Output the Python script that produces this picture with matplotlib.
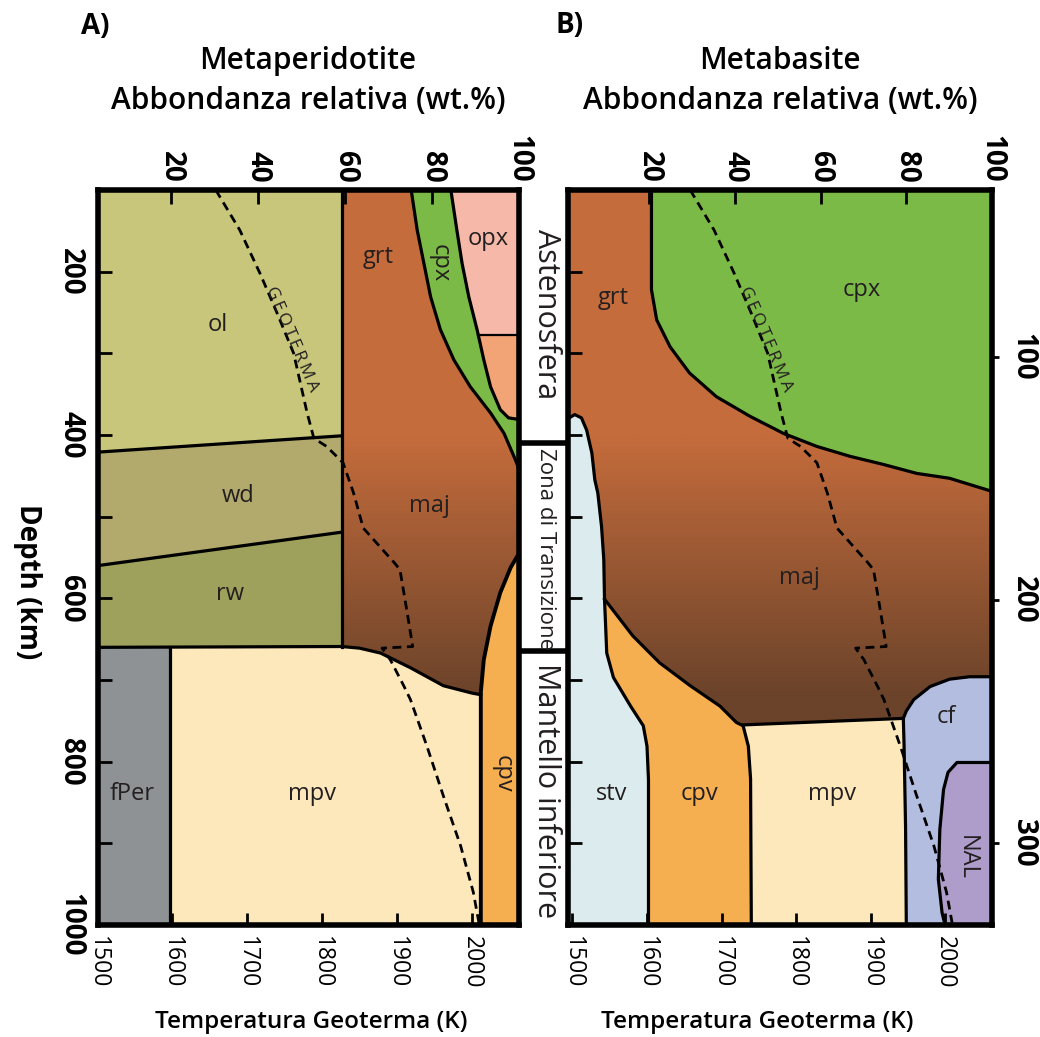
"""
    mineral phase abundance along the geotherm: metaperidotite (A) and metabasite (B)
"""
import numpy as np
import matplotlib
matplotlib.use("Agg")
import matplotlib.pyplot as plt
from matplotlib.colors import to_rgb

plt.rcParams['font.family'] = ['Open Sans', 'DejaVu Sans']

# axis ranges: temperature (K) on x, depth (km) on y
t_min_a, t_max_a = 1500, 2063
t_min_b, t_max_b = 1494, 2063
d_top, d_bot = 100, 1000
temp_ticks = [1500, 1600, 1700, 1800, 1900, 2000]
depth_labels = [200, 400, 600, 800, 1000]
depth_minor = [300, 500, 700, 900]
abund_ticks = [20, 40, 60, 80, 100]
abund_lim_a = (3, 100)
abund_lim_b = (1, 100)
right_ticks_b = [100, 200, 300]
right_lim_b = (333.7, 31.3)

# ---- panel A: metaperidotite, phase boundaries (T, depth) ----
a_ol_grt_T = 1826
a_fper_T = 1597
a_ol_wd_T = [1500, 1826]
a_ol_wd_d = [421, 401]
a_wd_rw_T = [1500, 1826]
a_wd_rw_d = [560, 519]
a_mpv_top_T = [1500, 1826, 1850, 1878, 1918, 1962, 2000, 2012]
a_mpv_top_d = [660, 659, 661, 667, 685, 707, 716, 718]
a_cpv_T = [2063, 2052, 2038, 2025, 2016, 2012, 2012]
a_cpv_d = [545, 562, 593, 634, 675, 715, 1000]
a_cpx_left_T = [1919, 1927, 1936, 1945, 1958, 1976, 1998, 2025, 2043, 2058, 2063]
a_cpx_left_d = [100, 149, 190, 231, 271, 308, 341, 373, 398, 430, 442]
a_cpx_right_T = [1972, 1980, 1987, 1996, 2007, 2016, 2025, 2038, 2049, 2063]
a_cpx_right_d = [100, 149, 190, 231, 271, 308, 341, 369, 379, 381]
a_opx_split_d = 277

# ---- panel B: metabasite ----
b_cpx_T = [1606, 1606, 1613, 1631, 1657, 1693, 1738, 1783, 1828, 1872, 1917, 1962, 2006, 2063]
b_cpx_d = [100, 222, 259, 292, 324, 353, 377, 398, 414, 426, 436, 447, 453, 469]
b_stv_T = [1494, 1503, 1512, 1519, 1526, 1530, 1534, 1539, 1542, 1543, 1546, 1555,
           1578, 1595, 1600, 1602, 1602]
b_stv_d = [380, 375, 379, 394, 422, 455, 471, 512, 552, 601, 667, 697,
           732, 756, 781, 822, 1000]
b_cpv_T = [1543, 1581, 1617, 1658, 1698, 1720, 1729, 1736, 1739, 1740]
b_cpv_d = [601, 646, 679, 707, 732, 752, 756, 781, 821, 1000]
b_mpv_top_T = [1729, 1944]
b_mpv_top_d = [755, 747]
b_mpv_right_T = [1944, 1945, 1947, 1948]
b_mpv_right_d = [747, 780, 880, 1000]
b_cf_T = [1944, 1948, 1958, 1980, 2006, 2033, 2063]
b_cf_d = [747, 738, 724, 708, 699, 696, 696]
b_nal_T = [2063, 2016, 2004, 1998, 1993, 1991, 1996, 2000]
b_nal_d = [801, 801, 813, 834, 883, 944, 985, 1000]

# geotherm (same in both panels)
geo_T = [1658, 1690, 1717, 1740, 1762, 1780, 1789, 1806, 1828, 1842, 1855, 1897,
         1904, 1913, 1921, 1880, 1891, 1909, 1918, 1940, 1962, 1985, 2002, 2010]
geo_d = [100, 149, 202, 251, 300, 373, 404, 414, 434, 471, 514, 557,
         565, 614, 659, 661, 675, 707, 724, 781, 842, 903, 960, 1000]
geo_label_pos = (1754, 285)

# mantle zones (depth of separators and label centres)
zone_breaks = [410, 665]
zone_names = ["Astenosfera", "Zona di Transizione", "Mantello inferiore"]
zone_label_d = [252, 540, 835]
zone_font = [22, 16, 22]

# phase labels: name, T, depth, rotation
labels_a = [("ol", 1661, 265, 0), ("wd", 1688, 475, 0), ("rw", 1677, 595, 0),
            ("grt", 1875, 182, 0), ("cpx", 1957, 190, -90), ("opx", 2022, 160, 0),
            ("maj", 1944, 487, 0), ("fPer", 1546, 840, 0), ("mpv", 1787, 840, 0),
            ("cpv", 2041, 815, -90)]
labels_b = [("grt", 1555, 232, 0), ("cpx", 1888, 222, 0), ("maj", 1805, 575, 0),
            ("stv", 1553, 840, 0), ("cpv", 1671, 840, 0), ("mpv", 1848, 840, 0),
            ("cf", 2001, 745, 0), ("NAL", 2029, 917, -90)]

# colours
c_ol, c_wd, c_rw = '#c8c67b', '#b2a96c', '#9ea15b'
c_fper, c_mpv, c_cpv = '#8e9294', '#fde8bc', '#f5ae50'
c_grt, c_maj, c_cpx = '#c56c3c', '#6b432a', '#7cba47'
c_opx, c_opx2 = '#f6b9a9', '#f3a477'
c_stv, c_cf, c_nal = '#dcecee', '#b3bddf', '#ae9dca'

LW = 2.3
TXT = '#231f20'


def grt_maj_gradient(ax, t0, t1):
    d = np.linspace(d_top, d_bot, 500)
    f = np.clip((d - 400) / (720 - 400), 0, 1)[:, None]
    col = np.array(to_rgb(c_grt)) * (1 - f) + np.array(to_rgb(c_maj)) * f
    ax.imshow(col[:, None, :], extent=(t0, t1, d_bot, d_top), aspect='auto',
              origin='upper', zorder=0, interpolation='bilinear')


def line(ax, T, d, lw=LW):
    ax.plot(T, d, color='k', lw=lw, solid_joinstyle='round', zorder=3)


def geotherm(ax):
    ax.plot(geo_T, geo_d, color='k', lw=2.0, ls=(0, (3.2, 2.0)), zorder=4)
    ax.text(geo_label_pos[0], geo_label_pos[1], "G\u2009E\u2009O\u2009T\u2009E\u2009R\u2009M\u2009A",
            rotation=-67, rotation_mode='anchor', ha='center', va='baseline',
            fontsize=12.5, color=TXT, zorder=5)


def style_axes(ax, t0, t1, left_labels):
    ax.set_xlim(t0, t1)
    ax.set_ylim(d_bot, d_top)
    for s in ax.spines.values():
        s.set_linewidth(4)
        s.set_zorder(6)
    ax.set_xticks(temp_ticks)
    ax.tick_params(axis='x', direction='in', length=9, width=2, pad=8, labelsize=16.5)
    for lab in ax.get_xticklabels():
        lab.set_rotation(-90)
    ax.set_yticks(depth_labels)
    ax.set_yticks(depth_minor, minor=True)
    if left_labels:
        ax.tick_params(axis='y', which='both', direction='in', length=10, width=2,
                       pad=9, labelsize=20)
        for lab in ax.get_yticklabels():
            lab.set_rotation(-90)
            lab.set_va('center')
            lab.set_fontweight('bold')
    else:
        ax.tick_params(axis='y', which='both', direction='in', length=10, width=2,
                       labelleft=False)


def top_axis(ax, lim):
    axt = ax.twiny()
    axt.set_xlim(*lim)
    axt.set_xticks(abund_ticks)
    axt.tick_params(axis='x', direction='in', length=10, width=2, pad=5, labelsize=20)
    for lab in axt.get_xticklabels():
        lab.set_rotation(-90)
        lab.set_fontweight('bold')
    for s in axt.spines.values():
        s.set_visible(False)
    return axt


fig = plt.figure(figsize=(10.4, 10.37), dpi=100)
W, H = 1040, 1037
ax_top_px, ax_bot_px = 190, 925
ax_a = fig.add_axes([97.5 / W, 1 - ax_bot_px / H, 421.5 / W, (ax_bot_px - ax_top_px) / H])
ax_b = fig.add_axes([568 / W, 1 - ax_bot_px / H, 424 / W, (ax_bot_px - ax_top_px) / H])
ax_m = fig.add_axes([519 / W, 1 - ax_bot_px / H, 49 / W, (ax_bot_px - ax_top_px) / H])

# ================= panel A =================
ax = ax_a
grt_maj_gradient(ax, a_ol_grt_T, t_max_a)
d_tz = a_mpv_top_d[0]
ax.fill([t_min_a, a_ol_grt_T, a_ol_grt_T, t_min_a], [d_top, d_top, d_tz, d_tz], color=c_ol, lw=0)
ax.fill(a_ol_wd_T + a_wd_rw_T[::-1], a_ol_wd_d + a_wd_rw_d[::-1], color=c_wd, lw=0)
ax.fill(a_wd_rw_T + [a_ol_grt_T, t_min_a], a_wd_rw_d + [d_tz, d_tz], color=c_rw, lw=0)
ax.fill(a_cpx_left_T + [t_max_a], a_cpx_left_d + [d_top], color=c_cpx, lw=0)
ax.fill(a_cpx_right_T + [t_max_a], a_cpx_right_d + [d_top], color=c_opx, lw=0)
t_split = np.interp(a_opx_split_d, a_cpx_right_d, a_cpx_right_T)
low = [(t, d) for t, d in zip(a_cpx_right_T, a_cpx_right_d) if d > a_opx_split_d]
ax.fill([t_split] + [p[0] for p in low] + [t_max_a],
        [a_opx_split_d] + [p[1] for p in low] + [a_opx_split_d], color=c_opx2, lw=0)
ax.fill(a_mpv_top_T + [a_cpv_T[-1], t_min_a], a_mpv_top_d + [d_bot, d_bot], color=c_mpv, lw=0)
ax.fill([t_min_a, a_fper_T, a_fper_T, t_min_a], [d_tz, d_tz, d_bot, d_bot], color=c_fper, lw=0)
ax.fill(a_cpv_T + [t_max_a], a_cpv_d + [d_bot], color=c_cpv, lw=0)

line(ax, [a_ol_grt_T, a_ol_grt_T], [d_top, d_tz])
line(ax, a_ol_wd_T, a_ol_wd_d)
line(ax, a_wd_rw_T, a_wd_rw_d)
line(ax, a_mpv_top_T, a_mpv_top_d)
line(ax, [a_fper_T, a_fper_T], [d_tz, d_bot])
line(ax, a_cpv_T, a_cpv_d, lw=2.8)
line(ax, a_cpx_left_T, a_cpx_left_d)
line(ax, a_cpx_right_T, a_cpx_right_d)
line(ax, [t_split, t_max_a], [a_opx_split_d] * 2, lw=1.6)
geotherm(ax)
for name, t, d, rot in labels_a:
    ax.text(t, d, name, ha='center', va='center', rotation=rot, fontsize=17, color=TXT, zorder=5)
style_axes(ax, t_min_a, t_max_a, True)
top_axis(ax, abund_lim_a)

# ================= panel B =================
ax = ax_b
grt_maj_gradient(ax, t_min_b, t_max_b)
ax.fill(b_cpx_T + [t_max_b], b_cpx_d + [d_top], color=c_cpx, lw=0)
ax.fill(b_mpv_top_T + b_mpv_right_T[1:] + [b_mpv_top_T[0]],
        b_mpv_top_d + b_mpv_right_d[1:] + [d_bot], color=c_mpv, lw=0)
ax.fill(b_cpv_T + [t_min_b, t_min_b], b_cpv_d + [d_bot, b_cpv_d[0]], color=c_cpv, lw=0)
ax.fill(b_stv_T + [t_min_b], b_stv_d + [d_bot], color=c_stv, lw=0)
ax.fill(b_cf_T + [t_max_b] + b_mpv_right_T[::-1], b_cf_d + [d_bot] + b_mpv_right_d[::-1],
        color=c_cf, lw=0)
ax.fill(b_nal_T + [t_max_b], b_nal_d + [d_bot], color=c_nal, lw=0)

line(ax, b_cpx_T, b_cpx_d)
line(ax, b_stv_T, b_stv_d)
line(ax, b_cpv_T, b_cpv_d)
line(ax, b_mpv_top_T, b_mpv_top_d)
line(ax, b_mpv_right_T, b_mpv_right_d)
line(ax, b_cf_T, b_cf_d)
line(ax, b_nal_T, b_nal_d)
geotherm(ax)
for name, t, d, rot in labels_b:
    ax.text(t, d, name, ha='center', va='center', rotation=rot, fontsize=17, color=TXT, zorder=5)
style_axes(ax, t_min_b, t_max_b, False)
top_axis(ax, abund_lim_b)
axr = ax.twinx()
axr.set_ylim(*right_lim_b)
axr.set_yticks(right_ticks_b)
axr.tick_params(axis='y', direction='out', length=5, width=2, pad=7, labelsize=20)
for lab in axr.get_yticklabels():
    lab.set_rotation(-90)
    lab.set_va('center')
    lab.set_fontweight('bold')
for s in axr.spines.values():
    s.set_visible(False)

# ================= middle column: mantle zones =================
ax_m.set_xlim(0, 1)
ax_m.set_ylim(d_bot, d_top)
ax_m.axis('off')
for d in zone_breaks:
    ax_m.plot([0, 1], [d, d], color='k', lw=4, solid_capstyle='butt')
for name, d, fs in zip(zone_names, zone_label_d, zone_font):
    ax_m.text(0.55, d, name, rotation=-90, ha='center', va='center', fontsize=fs, color=TXT)

# ================= titles and axis labels =================
fig.text(81 / W, 1 - 12 / H, "A)", ha='left', va='top', fontsize=20, fontweight='bold')
fig.text(555 / W, 1 - 11 / H, "B)", ha='left', va='top', fontsize=20, fontweight='bold')
for cx, name in [(308, "Metaperidotite"), (780, "Metabasite")]:
    fig.text(cx / W, 1 - 61 / H, name, ha='center', va='center', fontsize=21.5, fontweight='semibold')
    fig.text(cx / W, 1 - 101 / H, "Abbondanza relativa (wt.%)", ha='center', va='center',
             fontsize=21.5, fontweight='semibold')
for cx in [311, 757]:
    fig.text(cx / W, 1 - 1022 / H, "Temperatura Geoterma (K)", ha='center', va='center',
             fontsize=17.5, fontweight='semibold')
fig.text(27 / W, 1 - 582 / H, "Depth (km)", rotation=-90, ha='center', va='center',
         fontsize=20, fontweight='bold')

fig.savefig("out.png", dpi=100, facecolor='white')
